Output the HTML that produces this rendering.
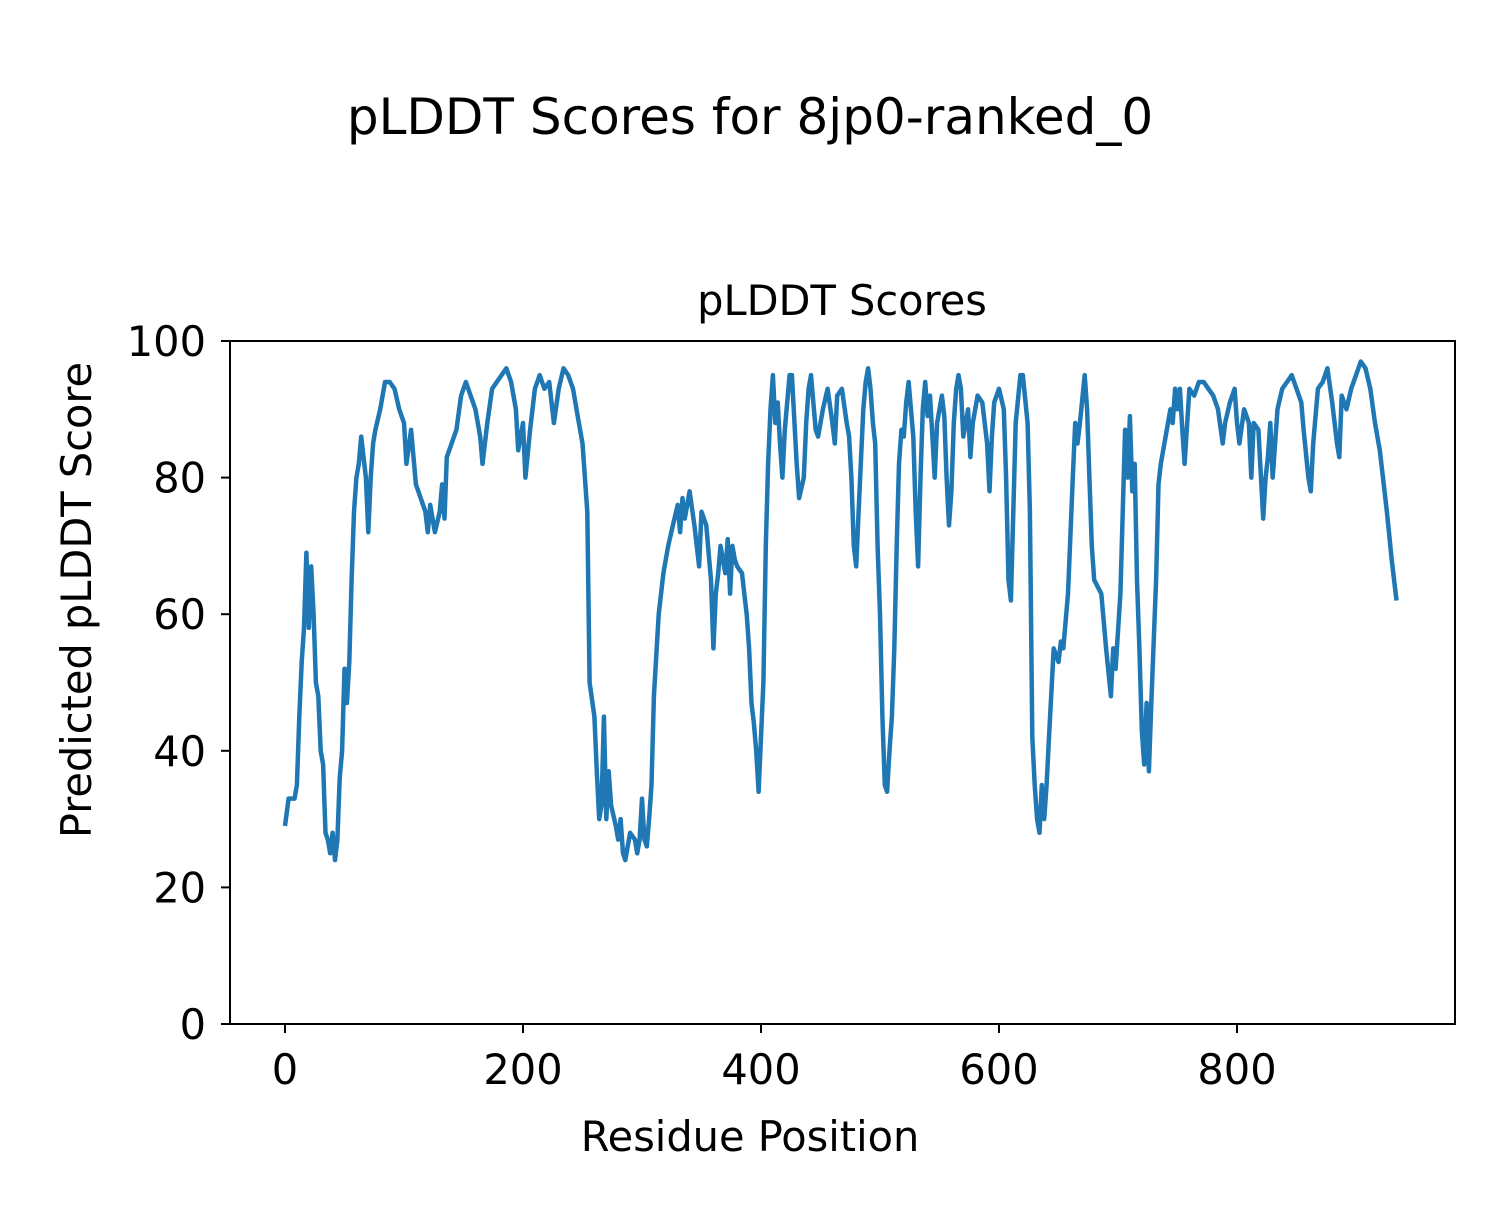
<!DOCTYPE html>
<html><head><meta charset="utf-8"><style>
body{margin:0;background:#fff;}
svg text{font-family:"DejaVu Sans","Liberation Sans",sans-serif;fill:#000;}
</style></head><body>
<svg id="chart" width="1500" height="1200" viewBox="0 0 1500 1200">
<text x="750" y="134" text-anchor="middle" font-size="50">pLDDT Scores for 8jp0-ranked_0</text>
<text x="842" y="315" text-anchor="middle" font-size="41.5">pLDDT Scores</text>
<text x="750" y="1151" text-anchor="middle" font-size="41.5">Residue Position</text>
<text transform="translate(91,600) rotate(-90)" text-anchor="middle" font-size="41.5">Predicted pLDDT Score</text>
<g id="ticks"></g>
<polyline id="line" fill="none" stroke="#1f77b4" stroke-width="4.5" stroke-linejoin="round"></polyline>
<rect x="230" y="341" width="1225" height="683" fill="none" stroke="#000" stroke-width="2"></rect>
</svg>
<script>
const residues=[0,3,8,10,12,14,16,18,20,22,24,26,28,30,32,34,36,38,40,42,44,46,48,50,52,54,56,58,60,62,64,66,68,70,72,74,76,80,84,88,92,96,100,102,106,110,114,118,120,122,126,130,132,134,136,140,144,148,152,156,160,164,166,170,174,178,182,186,190,194,196,200,202,206,210,214,218,222,226,230,234,238,242,246,250,254,256,260,262,264,266,268,270,272,274,278,280,282,284,286,290,294,296,298,300,302,304,306,308,310,314,318,322,326,330,332,334,336,340,344,348,350,354,356,358,360,362,364,366,370,372,374,376,378,380,384,386,388,390,392,394,396,398,400,402,404,406,408,410,412,414,416,418,420,424,426,430,432,436,438,440,442,446,448,452,456,460,462,464,468,472,474,476,478,480,482,486,488,490,492,494,496,498,500,502,504,506,508,510,512,514,516,518,520,522,524,528,530,532,534,536,538,540,542,544,546,548,552,554,556,558,560,562,564,566,568,570,574,576,578,582,586,588,590,592,594,596,600,604,606,608,610,612,614,618,620,624,626,628,630,632,634,636,638,640,642,646,650,652,654,658,662,664,666,668,672,674,676,678,680,686,690,694,696,698,702,706,708,710,712,714,716,718,720,722,724,726,728,732,734,736,740,744,746,748,750,752,754,756,760,764,768,772,776,780,784,788,790,794,798,800,802,806,810,812,814,818,822,824,826,828,830,834,838,842,846,850,854,856,860,862,864,868,872,876,880,884,886,888,892,896,900,904,908,912,916,920,926,930,934,937];
const scores=[29,33,33,35,45,53,58,69,58,67,60,50,48,40,38,28,27,25,28,24,27,36,40,52,47,53,65,75,80,82,86,83,80,72,80,85,87,90,94,94,93,90,88,82,87,79,77,75,72,76,72,75,79,74,83,85,87,92,94,92,90,86,82,88,93,94,95,96,94,90,84,88,80,87,93,95,93,94,88,93,96,95,93,89,85,75,50,45,37,30,32,45,30,37,32,29,27,30,25,24,28,27,25,27,33,27,26,30,35,48,60,66,70,73,76,72,77,74,78,73,67,75,73,69,65,55,63,66,70,66,71,63,70,68,67,66,63,60,55,47,44,40,34,42,50,70,82,90,95,88,91,85,80,87,95,95,82,77,80,88,93,95,87,86,90,93,88,85,92,93,88,86,80,70,67,75,90,94,96,93,88,85,70,60,45,35,34,40,45,55,70,82,87,86,91,94,86,75,67,80,90,94,89,92,86,80,88,92,89,80,73,78,88,93,95,93,86,90,83,88,92,91,88,85,78,86,91,93,90,80,65,62,75,88,95,95,88,75,42,35,30,28,35,30,35,42,55,53,56,55,63,80,88,85,88,95,90,80,70,65,63,55,48,55,52,63,87,80,89,78,82,65,55,43,38,47,37,47,65,79,82,86,90,88,93,90,93,87,82,93,92,94,94,93,92,90,85,88,91,93,88,85,90,88,80,88,87,74,80,83,88,80,90,93,94,95,93,91,87,80,78,85,93,94,96,91,85,83,92,90,93,95,97,96,93,88,84,75,68,62];
const xTicks=[0,200,400,600,800];
const yTicks=[0,20,40,60,80,100];
function xs(v){return 285+v*1.19;}
function ys(v){return 1024-v*6.83;}
const line=document.getElementById('line');
line.setAttribute('points',residues.map((r,i)=>xs(r).toFixed(1)+','+ys(scores[i]).toFixed(1)).join(' '));
const g=document.getElementById('ticks');
const NS='http://www.w3.org/2000/svg';
xTicks.forEach(t=>{
  const l=document.createElementNS(NS,'line');
  l.setAttribute('x1',xs(t));l.setAttribute('x2',xs(t));l.setAttribute('y1',1024);l.setAttribute('y2',1033);
  l.setAttribute('stroke','#000');l.setAttribute('stroke-width','2');
  
  
  g.appendChild(l);
  const tx=document.createElementNS(NS,'text');
  tx.setAttribute('x',xs(t));tx.setAttribute('y',1084);tx.setAttribute('text-anchor','middle');tx.setAttribute('font-size','41.5');
  tx.textContent=t;
  
  
  g.appendChild(tx);
});
yTicks.forEach(t=>{
  const l=document.createElementNS(NS,'line');
  l.setAttribute('x1',221);l.setAttribute('x2',230);l.setAttribute('y1',ys(t));l.setAttribute('y2',ys(t));
  l.setAttribute('stroke','#000');l.setAttribute('stroke-width','2');
  
  
  g.appendChild(l);
  const tx=document.createElementNS(NS,'text');
  tx.setAttribute('x',206);tx.setAttribute('y',ys(t)+15);tx.setAttribute('text-anchor','end');tx.setAttribute('font-size','41.5');
  tx.textContent=t;
  
  
  g.appendChild(tx);
});
</script>
</body></html>
